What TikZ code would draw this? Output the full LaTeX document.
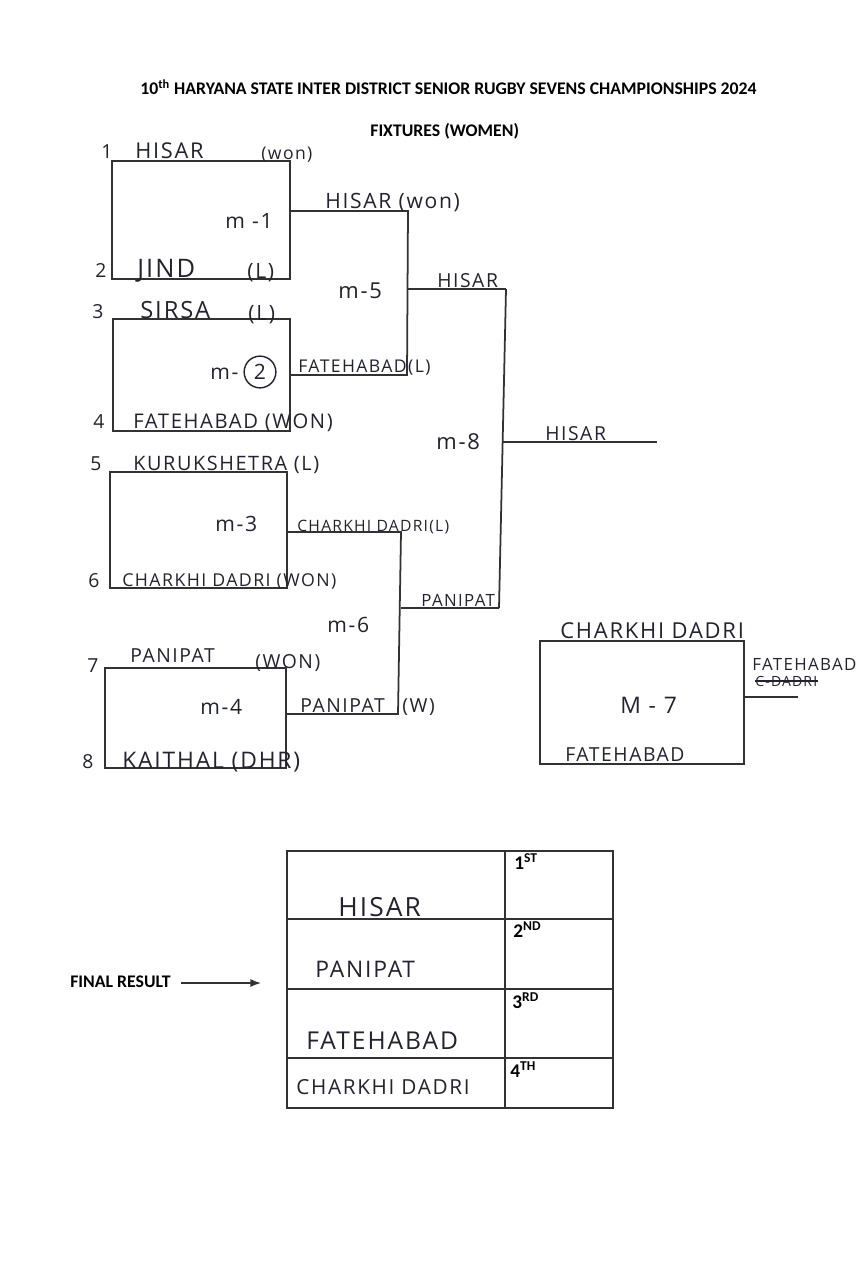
\documentclass[tikz,border=0pt]{standalone}
\usepackage{fontspec}
\setmainfont{Carlito}
\newfontfamily\handfont[LetterSpace=8]{Open Sans}
\usetikzlibrary{arrows.meta, fit}

\definecolor{ink}{RGB}{35,35,48}
\definecolor{pen}{RGB}{50,50,50}

\tikzset{
  matchbox/.style={draw=pen, line width=1pt, inner sep=0pt},
  bracket/.style={draw=pen, line width=1pt},
  hand/.style={text=ink, font=\handfont\fontsize{11}{13}\selectfont, inner sep=0pt, anchor=base west},
  sz/.style={font=\handfont\fontsize{#1}{#1}\selectfont},
  head/.style={font=\bfseries\fontsize{10.1}{12}\selectfont, inner sep=0pt, anchor=base west},
  place/.style={font=\bfseries\fontsize{11}{13}\selectfont, inner sep=0pt, anchor=base west},
}

\begin{document}
\begin{tikzpicture}[x=0.02cm, y=-0.02cm]
  \useasboundingbox (0,0) rectangle (862,1280);
  \fill[white] (0,0) rectangle (862,1280);

  % headings
  \node[head] (title) at (140,95) {10\textsuperscript{th} HARYANA STATE INTER DISTRICT SENIOR RUGBY SEVENS CHAMPIONSHIPS 2024};
  \node[head] (fixtures) at (370,137) {FIXTURES (WOMEN)};

  % match boxes
  \node[matchbox, fit={(112,161) (290,279)}] (m1) {};
  \node[matchbox, fit={(113,319) (290,431)}] (m2) {};
  \node[matchbox, fit={(110,472) (287,588)}] (m3) {};
  \node[matchbox, fit={(105,668) (286,768)}] (m4) {};
  \node[matchbox, fit={(540,641) (744,764)}] (m7) {};

  % bracket corners
  \coordinate (w1) at (408,211);
  \coordinate (w2) at (407,375);
  \coordinate (w5) at (506,289);
  \coordinate (w3) at (401,532);
  \coordinate (w4) at (398,714);
  \coordinate (w6) at (499,608);
  \coordinate (w8) at (502,442);
  \coordinate (f8) at (657,442);
  \coordinate (w7) at (798,697);

  \draw[bracket] (m1.east |- w1) -- (w1) -- (w2) -- (m2.east |- w2);
  \draw[bracket] (w1 |- w5) -- (w5);
  \draw[bracket] (m3.east |- w3) -- (w3) -- (w4) -- (m4.east |- w4);
  \draw[bracket] (w3 |- w6) -- (w6);
  \draw[bracket] (w5) -- (w6);
  \draw[bracket] (w8) -- (f8);
  \draw[bracket] (m7.east |- w7) -- (w7);

  % M-1
  \node[hand] (s1) at (101,159) {1};
  \node[hand, sz=12.4] (t1) at (135,159) {HISAR};
  \node[hand, sz=10] (r1) at (261,160) {(won)};
  \node[hand, sz=12] (l1) at (225,229) {m -1};
  \node[hand] (s2) at (95,277) {2};
  \node[hand, sz=14.5] (t2) at (137,277) {JIND};
  \node[hand, sz=12] (r2) at (247,278) {(L)};
  \node[hand, sz=12] (o1) at (325,209) {HISAR (won)};

  % M-2
  \node[hand] (s3) at (92,318) {3};
  \node[hand, sz=13.5] (t3) at (140,318) {SIRSA};
  \node[hand, sz=12] (r3) at (248,320) {(L)};
  \node[hand, sz=12] (l2) at (210,379) {m-};
  \node[circle, draw=ink, thick, inner sep=2.5pt, text=ink, sz=12] (c2) at (260,372) {2};
  \node[hand, sz=10] (o2) at (298,372) {FATEHABAD(L)};
  \node[hand] (s4) at (93,428) {4};
  \node[hand, sz=11.5] (t4) at (133,428) {FATEHABAD (WON)};

  % M-5 and M-8
  \node[hand, sz=12.5] (l5) at (338,298) {m-5};
  \node[hand] (o5) at (437,288) {HISAR};
  \node[hand, sz=12.5] (l8) at (436,449) {m-8};
  \node[hand] (o8) at (545,440) {HISAR};

  % M-3
  \node[hand] (s5) at (90,470) {5};
  \node[hand, sz=11.3] (t5) at (133,470) {KURUKSHETRA (L)};
  \node[hand, sz=12] (l3) at (215,531) {m-3};
  \node[hand, sz=8.9] (o3) at (297,531) {CHARKHI DADRI(L)};
  \node[hand] (s6) at (88,587) {6};
  \node[hand, sz=10.1] (t6) at (122,586) {CHARKHI DADRI (WON)};

  % M-6
  \node[hand, sz=12] (l6) at (327,632) {m-6};
  \node[hand, sz=9.6] (o6) at (421,606) {PANIPAT};

  % M-4
  \node[hand] (s7) at (87,672) {7};
  \node[hand] (t7) at (130,662) {PANIPAT};
  \node[hand] (r7) at (255,668) {(WON)};
  \node[hand, sz=12] (l4) at (200,714) {m-4};
  \node[hand] (o4) at (300,712) {PANIPAT\hspace{10pt}(W)};
  \node[hand] (s8) at (82,768) {8};
  \node[hand, sz=13] (t8) at (122,768) {KAITHAL (DHR)};

  % M-7
  \node[hand, sz=12.5] (t9) at (560,638) {CHARKHI DADRI};
  \node[hand, sz=13] (l7) at (620,713) {M - 7};
  \node[hand] (t10) at (565,761) {FATEHABAD};
  \node[hand, sz=9.6] (o7) at (752,670) {FATEHABAD};
  \node[hand, sz=8] (x7) at (755,686) {C-DADRI};
  \draw[ink, line width=0.8pt] (x7.west) -- (x7.east);

  % final result
  \node[head] (final) at (70,987) {FINAL RESULT};
  \coordinate (tip) at (261,983);
  \draw[pen, line width=0.8pt, -{Latex[length=6pt,width=4.5pt]}] (final.east |- tip) ++(10,0) -- (tip);

  \draw[matchbox] (287,851) rectangle (613,1108);
  \foreach \y in {919,989,1058}
    \draw[matchbox] (287,\y) -- (613,\y);
  \draw[matchbox] (505,851) -- (505,1108);

  \node[place] (p1) at (514,869) {1\textsuperscript{ST}};
  \node[place] (p2) at (513,937) {2\textsuperscript{ND}};
  \node[place] (p3) at (512,1008) {3\textsuperscript{RD}};
  \node[place] (p4) at (510,1077) {4\textsuperscript{TH}};

  \node[hand, sz=15] (n1) at (338,916) {HISAR};
  \node[hand, sz=13] (n2) at (315,977) {PANIPAT};
  \node[hand, sz=14] (n3) at (306,1049) {FATEHABAD};
  \node[hand, sz=11.8] (n4) at (296,1094) {CHARKHI DADRI};
\end{tikzpicture}
\end{document}
